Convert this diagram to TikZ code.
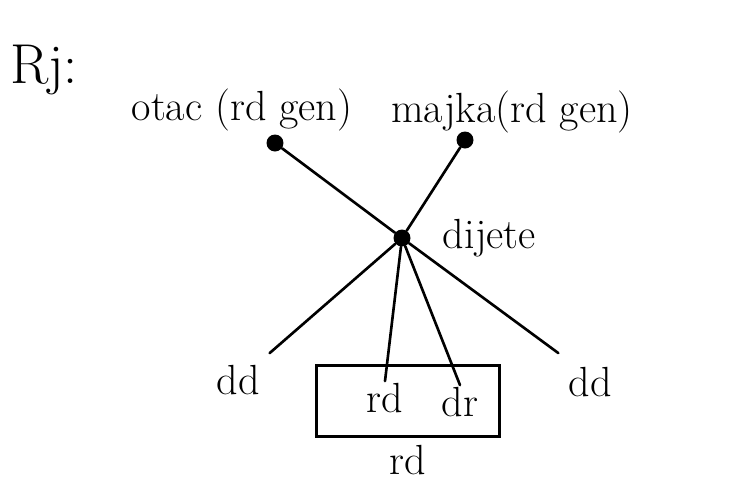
\documentclass[tikz,border=0pt]{standalone}
\usepackage{tikz}
\usetikzlibrary{positioning, calc}
\tikzset{%
  osoba/.style={circle, fill=black, inner sep=0pt, minimum size=0.34cm},
  natpis/.style={font=\fontsize{24}{28}\selectfont, inner sep=1pt},
  veza/.style={line width=1.5pt, line cap=round},
}

\begin{document}
\begin{tikzpicture}[x=0.02cm, y=-0.02cm]
\useasboundingbox (0,0) rectangle (738,481);

% naslov
\node[natpis, font=\fontsize{32}{36}\selectfont] (rj) at (44,70) {Rj:};

% roditelji
\node[natpis] (otac) at (242,110) {otac (rd gen)};
\node[natpis] (majka) at (512,112) {majka(rd gen)};
\node[osoba] (o) at (275,143) {};
\node[osoba] (m) at (465,140) {};

% dijete
\node[osoba] (d) at (402,238) {};
\node[natpis, right=0.6cm of d] (dijete) {dijete};

% potomci
\node[natpis] (dd1) at (238,380) {dd};
\node[natpis] (dd2) at (590,382) {dd};
\node[natpis] (rd) at (385,398) {rd};
\node[natpis] (dr) at (460,402) {dr};
\node[draw, line width=1.5pt, minimum width=3.66cm, minimum height=1.42cm] (box) at (408,401) {};
\node[natpis, below=0.1cm of box] (rdd) {rd};

% linije
\draw[veza] (o) -- (d);
\draw[veza] (m) -- (d);
\draw[veza] (d) -- ($(dd1.north east)+(8,-10)$) coordinate (k1);
\draw[veza] (d) -- (rd.north);
\draw[veza] (d) -- (dr.north);
\draw[veza] (d) -- ($(dd2.north west)+(-8,-12)$) coordinate (k2);

\end{tikzpicture}
\end{document}
